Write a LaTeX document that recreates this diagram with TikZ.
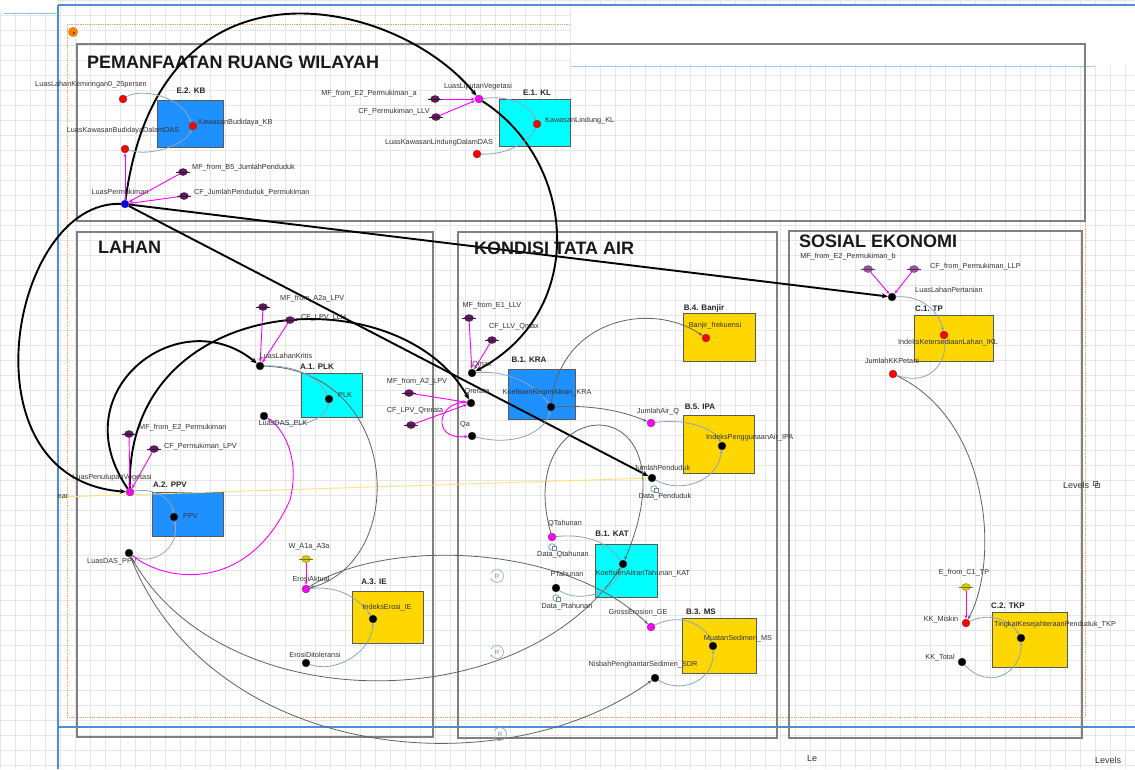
\documentclass[tikz,border=0pt]{standalone}
\usepackage{fontspec}
\setmainfont{Liberation Sans}
\usetikzlibrary{arrows.meta,calc,shapes.geometric}
\pgfdeclarelayer{bg}
\pgfdeclarelayer{links}
\pgfsetlayers{bg,links,main}
\definecolor{modblue}{HTML}{1E90FF}
\definecolor{modcyan}{HTML}{00FFFF}
\definecolor{modgold}{HTML}{FFD700}
\definecolor{linkblue}{HTML}{86A6C2}
\definecolor{ghost}{HTML}{5E1A5E}
\definecolor{ghostlight}{HTML}{9B55A0}
\definecolor{ghostyel}{HTML}{D8C800}
\definecolor{mag}{HTML}{FF00FF}
\definecolor{gridc}{HTML}{E6E6E6}
\definecolor{canvasblue}{HTML}{4A8FD4}
\definecolor{orangeline}{HTML}{F0A060}
\definecolor{yelline}{HTML}{FFE27A}
\tikzset{
  every node/.style={inner sep=0pt},
  lbl/.style={font=\fontsize{7.3}{8}\selectfont, text=black!80},
  modtitle/.style={font=\fontsize{8}{9}\selectfont\bfseries, text=black!85},
  bigtitle/.style={font=\fontsize{18}{20}\selectfont\bfseries, anchor=west, text=black!90},
  vdot/.style={circle, minimum size=8pt, draw=black!70, line width=0.3pt},
  rdot/.style={vdot, fill=red},
  mdot/.style={vdot, fill=mag},
  kdot/.style={vdot, fill=black},
  bdot/.style={vdot, fill=blue},
  gvar/.style={ellipse, minimum width=9pt, minimum height=7pt, fill=#1, draw=#1!60!black, line width=0.3pt},
  modbox/.style={draw=black!65, line width=0.8pt},
  frm/.style={draw=black!50, line width=1.3pt},
  thicklink/.style={black, line width=1.9pt, -{Stealth[length=6pt,width=5pt]}},
  graylink/.style={black!62, line width=0.8pt, -{Stealth[length=4pt,width=3pt]}},
  bluelink/.style={linkblue, line width=0.8pt, -{Stealth[length=3.5pt,width=3pt]}},
  maglink/.style={mag, line width=0.9pt, -{Stealth[length=4pt,width=3pt]}},
  dataic/.style={circle, minimum size=6.5pt, draw=linkblue, line width=0.9pt, fill=white},
  ricon/.style={font=\fontsize{6}{7}\selectfont, text=linkblue!80!black},
}
\newcommand\gvnode[4]{\node[gvar=#4] (#1) at (#2,#3) {};
  \draw[#4!60!black, line width=0.7pt] ($(#1.west)+(-2,0)$) -- ($(#1.east)+(2,0)$);}
\newcommand\dataicon[3]{\node[dataic] (#1) at (#2,#3) {};
  \draw[linkblue!80!black, line width=0.5pt, fill=white] ($(#1)+(0.5,-0.5)$) rectangle ++(4,4);}
\newcommand\rloop[3]{\node[ricon] (#1) at (#2,#3) {R};
  \draw[linkblue, line width=0.6pt, -{Stealth[length=2pt,width=2pt]}] (#1) ++(210:6.5) arc[start angle=210, end angle=520, radius=6.5];}

\begin{document}
\begin{tikzpicture}[x=1pt,y=-1pt]
\useasboundingbox (0,0) rectangle (1135,769);
\begin{pgfonlayer}{bg}
\fill[white] (0,0) rectangle (1135,769);
\foreach \gx in {0,15,...,1135} {\draw[gridc, line width=0.5pt] (\gx,0) -- (\gx,769);}
\foreach \gy in {0,15,...,769} {\draw[gridc, line width=0.5pt] (0,\gy) -- (1135,\gy);}
\fill[white] (571,6) rectangle (1135,65);
\fill[white] (0,0) rectangle (58,12);
\draw[canvasblue!50, line width=0.6pt] (571,66) -- (1095,66);
% canvas lines
\draw[canvasblue, line width=1.1pt] (58,5) -- (58,769);
\draw[canvasblue, line width=1.1pt] (58,5) -- (1135,5);
\draw[canvasblue!60, line width=0.8pt] (4,13) -- (58,13);
\draw[canvasblue, line width=1.1pt] (58,727) -- (1135,727);
\draw[orangeline, densely dotted, line width=0.8pt] (67,24) -- (67,717) -- (1085,717) -- (1085,90);
\draw[orangeline, densely dotted, line width=0.8pt] (67,24) -- (570,24);
% frames
\draw[frm] (77,44) rectangle (1085,221);
\draw[frm] (77,232) rectangle (433,737);
\draw[frm] (458,232) rectangle (777,738);
\draw[frm] (789,231) rectangle (1082,738);
% module boxes
\draw[modbox, fill=modblue] (157,100) rectangle (223,147);
\draw[modbox, fill=modcyan] (499,99) rectangle (570,146);
\draw[modbox, fill=modcyan] (301,373) rectangle (362,417);
\draw[modbox, fill=modblue] (152,492) rectangle (223,536);
\draw[modbox, fill=modgold] (352,591) rectangle (423,643);
\draw[modbox, fill=modblue] (508,369) rectangle (575,419);
\draw[modbox, fill=modgold] (683,313) rectangle (755,361);
\draw[modbox, fill=modgold] (683,415) rectangle (754,473);
\draw[modbox, fill=modcyan] (595,544) rectangle (657,597);
\draw[modbox, fill=modgold] (682,618) rectangle (756,673);
\draw[modbox, fill=modgold] (914,315) rectangle (993,361);
\draw[modbox, fill=modgold] (992,612) rectangle (1067,667);
\end{pgfonlayer}

% orange marker
\node[circle, fill=orange!85!brown, minimum size=10pt] (omark) at (73,32) {};
\node[circle, fill=black!70, minimum size=2.5pt] (omarkc) at (74,33) {};

% titles
\node[bigtitle] (tPRW) at (87,62) {PEMANFAATAN RUANG WILAYAH};
\node[bigtitle] (tLAH) at (98,247) {LAHAN};
\node[bigtitle] (tKTA) at (474,248) {KONDISI TATA AIR};
\node[bigtitle] (tSE) at (799,241) {SOSIAL EKONOMI};

% module titles
\node[modtitle] (mtKB) at (191,91) {E.2. KB};
\node[modtitle] (mtKL) at (537,93) {E.1. KL};
\node[modtitle] (mtPLK) at (317,367) {A.1. PLK};
\node[modtitle] (mtPPV) at (170,485) {A.2. PPV};
\node[modtitle] (mtIE) at (374,582) {A.3. IE};
\node[modtitle] (mtKRA) at (529,360) {B.1. KRA};
\node[modtitle] (mtBJ) at (704,308) {B.4. Banjir};
\node[modtitle] (mtIPA) at (700,407) {B.5. IPA};
\node[modtitle] (mtKAT) at (612,534) {B.1. KAT};
\node[modtitle] (mtMS) at (701,612) {B.3. MS};
\node[modtitle] (mtTP) at (929,309) {C.1. TP};
\node[modtitle] (mtTKP) at (1008,606) {C.2. TKP};

% ---------- variables: top module
\node[rdot] (LLK0) at (123,99) {};
\node[rdot] (KB) at (193,126) {};
\node[rdot] (LKBD) at (125,149) {};
\gvnode{MFB5}{183}{172}{ghost}
\gvnode{CFJP}{184}{196}{ghost}
\node[bdot] (LP) at (125,204) {};
\node[mdot] (LLV) at (479,99) {};
\gvnode{MFE2a}{435}{99}{ghost}
\gvnode{CFLLV}{436}{117}{ghost}
\node[rdot] (KL) at (537,124) {};
\node[rdot] (LKLD) at (477,154) {};

\node[lbl] (tLLK0) at (91,85) {LuasLahanKemiringan0\_25persen};
\node[lbl, anchor=west] (tKB) at (198,123) {KawasanBudidaya\_KB};
\node[lbl] (tLKBD) at (123,131) {LuasKawasanBudidayaDalamDAS};
\node[lbl, anchor=west] (tMFB5) at (192,168) {MF\_from\_B5\_JumlahPenduduk};
\node[lbl, anchor=west] (tCFJP) at (194,193) {CF\_JumlahPenduduk\_Permukiman};
\node[lbl] (tLP) at (120,192) {LuasPermukiman};
\node[lbl] (tLLV) at (478,87) {LuasLiputanVegetasi};
\node[lbl] (tMFE2a) at (369,94) {MF\_from\_E2\_Permukiman\_a};
\node[lbl] (tCFLLV) at (394,112) {CF\_Permukiman\_LLV};
\node[lbl, anchor=west] (tKL) at (545,121) {KawasanLindung\_KL};
\node[lbl] (tLKLD) at (439,143) {LuasKawasanLindungDalamDAS};

% ---------- LAHAN
\gvnode{MFA2a}{263}{307}{ghost}
\gvnode{CFLLH}{290}{320}{ghost}
\node[kdot] (LLK) at (260,366) {};
\node[kdot] (LDPLK) at (264,416) {};
\node[kdot] (PLK) at (329,399) {};
\gvnode{MFE2}{129}{434}{ghost}
\gvnode{CFPLPV}{154}{449}{ghost}
\node[mdot] (LPV) at (130,492) {};
\node[kdot] (PPV) at (174,517) {};
\node[kdot] (LDPPV) at (129,553) {};
\gvnode{WA}{306}{559}{ghostyel}
\node[mdot] (EA) at (306,589) {};
\node[kdot] (IE) at (373,619) {};
\node[kdot] (ED) at (306,663) {};

\node[lbl, anchor=west] (tMFA2a) at (280,299) {MF\_from\_A2a\_LPV};
\node[lbl, anchor=west] (tCFLLH) at (301,318) {CF\_LPV\_LLH};
\node[lbl] (tLLK) at (286,356) {LuasLahanKritis};
\node[lbl] (tLDPLK) at (283,424) {LuasDAS\_PLK};
\node[lbl, anchor=west] (tPLK) at (338,395) {PLK};
\node[lbl, anchor=west] (tMFE2) at (139,428) {MF\_from\_E2\_Permukiman};
\node[lbl, anchor=west] (tCFPLPV) at (164,447) {CF\_Permukiman\_LPV};
\node[lbl] (tLPV) at (112,478) {LuasPenutupanVegetasi};
\node[lbl, anchor=west] (tPPV) at (183,516) {PPV};
\node[lbl] (tLDPPV) at (112,562) {LuasDAS\_PPV};
\node[lbl] (tWA) at (309,547) {W\_A1a\_A3a};
\node[lbl] (tEA) at (311,579) {ErosiAktual};
\node[lbl] (tIE) at (387,608) {IndeksErosi\_IE};
\node[lbl] (tED) at (315,655) {ErosiDitoleransi};
\node[lbl] (tear) at (63,497) {ear};

% ---------- KONDISI TATA AIR
\gvnode{MFE1}{469}{318}{ghost}
\gvnode{CFQmax}{492}{340}{ghost}
\node[kdot] (Qmax) at (472,373) {};
\node[kdot] (Qrerata) at (471,403) {};
\node[kdot] (Qa) at (472,436) {};
\gvnode{MFA2}{409}{393}{ghost}
\gvnode{CFLPVQ}{411}{425}{ghost}
\node[kdot] (KRA) at (551,407) {};
\node[rdot] (BF) at (706,338) {};
\node[mdot] (JAQ) at (651,423) {};
\node[kdot] (IPA) at (722,446) {};
\node[kdot] (JP) at (652,478) {};
\dataicon{dPen}{654}{489}
\node[mdot] (QT) at (552,537) {};
\dataicon{dQt}{552}{547}
\node[kdot] (KAT) at (623,564) {};
\node[kdot] (PT) at (556,588) {};
\dataicon{dPt}{556}{598}
\node[mdot] (GE) at (651,627) {};
\node[kdot] (MS) at (713,646) {};
\node[kdot] (SDR) at (655,678) {};
\rloop{r1}{497}{576}
\rloop{r2}{497}{652}
\rloop{r3}{500}{734}

\node[lbl] (tMFE1) at (492,306) {MF\_from\_E1\_LLV};
\node[lbl] (tCFQmax) at (514,327) {CF\_LLV\_Qmax};
\node[lbl] (tQmax) at (482,365) {Qmax};
\node[lbl] (tQrerata) at (477,392) {Qrerata};
\node[lbl] (tQa) at (465,425) {Qa};
\node[lbl] (tMFA2) at (417,382) {MF\_from\_A2\_LPV};
\node[lbl] (tCFLPVQ) at (415,411) {CF\_LPV\_Qrerata};
\node[lbl] (tKRA) at (547,393) {KoefisienRegimAliran\_KRA};
\node[lbl] (tBF) at (715,326) {Banjir\_frekuensi};
\node[lbl] (tJAQ) at (658,412) {JumlahAir\_Q};
\node[lbl, anchor=west] (tIPA) at (706,438) {IndeksPenggunaanAir\_IPA};
\node[lbl] (tJP) at (662,468) {JumlahPenduduk};
\node[lbl] (tdPen) at (665,497) {Data\_Penduduk};
\node[lbl] (tQT) at (565,524) {QTahunan};
\node[lbl] (tdQt) at (563,555) {Data\_Qtahunan};
\node[lbl] (tKAT) at (643,574) {KoefisienAliranTahunan\_KAT};
\node[lbl] (tPT) at (567,574) {PTahunan};
\node[lbl] (tdPt) at (567,607) {Data\_Ptahunan};
\node[lbl] (tGE) at (638,613) {GrossErosion\_GE};
\node[lbl] (tMS) at (738,639) {MuatanSedimen\_MS};
\node[lbl] (tSDR) at (643,665) {NisbahPenghantarSedimen\_SDR};

% ---------- SOSIAL EKONOMI
\gvnode{MFE2b}{868}{269}{ghostlight}
\gvnode{CFLLP}{914}{269}{ghostlight}
\node[kdot] (LLP) at (892,297) {};
\node[rdot] (IKL) at (944,335) {};
\node[rdot] (JKKP) at (893,374) {};
\gvnode{EC1}{966}{587}{ghostyel}
\node[rdot] (KKM) at (966,623) {};
\node[kdot] (TKP) at (1021,638) {};
\node[kdot] (KKT) at (962,662) {};

\node[lbl] (tMFE2b) at (848,257) {MF\_from\_E2\_Permukiman\_b};
\node[lbl, anchor=west] (tCFLLP) at (930,267) {CF\_from\_Permukiman\_LLP};
\node[lbl, anchor=west] (tLLP) at (915,290) {LuasLahanPertanian};
\node[lbl] (tIKL) at (948,343) {IndeksKetersediaanLahan\_IKL};
\node[lbl] (tJKKP) at (892,361) {JumlahKKPetani};
\node[lbl] (tEC1) at (964,573) {E\_from\_C1\_TP};
\node[lbl] (tKKM) at (941,620) {KK\_Miskin};
\node[lbl] (tTKP) at (1055,625) {TingkatKesejahteraanPenduduk\_TKP};
\node[lbl] (tKKT) at (940,658) {KK\_Total};

% misc canvas texts
\node[lbl, font=\fontsize{9}{10}\selectfont] (tLev1) at (1076,485) {Levels};
\draw[black!60, line width=0.5pt] (1093,481) rectangle ++(4,4) (1095,483) rectangle ++(4,4);
\node[lbl, font=\fontsize{9}{10}\selectfont] (tLe) at (812,758) {Le};
\node[lbl, font=\fontsize{9}{10}\selectfont] (tLev2) at (1108,760) {Levels};

% ---------- connectors
\begin{pgfonlayer}{links}
\coordinate (earpt) at (58,497);
\draw[yelline, line width=0.9pt] (earpt) -- (JP);
% thick links between modules
\draw[thicklink] (LP) -- (LLP);
\draw[thicklink] (LP) -- (JP);
\draw[thicklink] (LP) .. controls (160,-60) and (400,0) .. (LLV);
\draw[thicklink] (LLV) .. controls (575,160) and (590,310) .. (Qmax);
\draw[thicklink] (LP) .. controls (10,200) and (-40,480) .. (LPV);
\draw[thicklink] (LPV) .. controls (60,390) and (180,300) .. (LLK);
\draw[thicklink] (LPV) .. controls (125,290) and (400,275) .. (Qrerata);
% gray links
\draw[graylink] (LLK) .. controls (400,370) and (410,560) .. (EA);
\draw[graylink] (EA) .. controls (380,540) and (560,540) .. (GE);
\draw[graylink] (LDPPV) .. controls (220,720) and (520,720) .. (KAT);
\draw[graylink] (LDPPV) .. controls (210,760) and (500,790) .. (SDR);
\draw[graylink] (KRA) .. controls (560,320) and (650,300) .. (BF);
\draw[graylink] (KRA) .. controls (590,405) and (620,410) .. (JAQ);
\draw[graylink] (QT) .. controls (510,390) and (700,380) .. (KAT);
\draw[graylink] (JKKP) .. controls (990,420) and (1000,560) .. (KKM);
% blue links inside modules
\draw[bluelink] (LLK0) .. controls (140,88) and (180,95) .. (KB);
\draw[bluelink] (LKBD) .. controls (150,157) and (185,145) .. (KB);
\draw[bluelink] (LLV) .. controls (510,95) and (530,105) .. (KL);
\draw[bluelink] (LKLD) .. controls (510,155) and (530,140) .. (KL);
\draw[bluelink] (LLK) .. controls (300,365) and (320,380) .. (PLK);
\draw[bluelink] (LDPLK) .. controls (290,432) and (325,422) .. (PLK);
\draw[bluelink] (LPV) .. controls (155,487) and (172,500) .. (PPV);
\draw[bluelink, black!35] (LDPPV) .. controls (150,567) and (180,550) .. (PPV);
\draw[bluelink] (EA) .. controls (340,585) and (360,600) .. (IE);
\draw[bluelink] (ED) .. controls (335,674) and (372,652) .. (IE);
\draw[bluelink] (Qmax) .. controls (510,370) and (535,385) .. (KRA);
\draw[bluelink] (Qa) .. controls (515,447) and (545,432) .. (KRA);
\draw[bluelink] (JAQ) .. controls (690,418) and (715,430) .. (IPA);
\draw[bluelink] (JP) .. controls (680,494) and (718,482) .. (IPA);
\draw[bluelink] (QT) .. controls (590,533) and (610,545) .. (KAT);
\draw[bluelink] (PT) .. controls (575,602) and (612,597) .. (KAT);
\draw[bluelink] (GE) .. controls (680,612) and (705,625) .. (MS);
\draw[bluelink] (SDR) .. controls (680,694) and (714,682) .. (MS);
\draw[bluelink] (LLP) .. controls (925,295) and (940,315) .. (IKL);
\draw[bluelink] (JKKP) .. controls (930,387) and (947,362) .. (IKL);
\draw[bluelink] (KKM) .. controls (990,612) and (1010,620) .. (TKP);
\draw[bluelink] (KKT) .. controls (990,692) and (1022,672) .. (TKP);
% magenta links
\draw[maglink] (MFB5) -- (LP);
\draw[maglink] (CFJP) -- (LP);
\draw[maglink] (LP) -- (LKBD);
\draw[maglink] (MFE2a) -- (LLV);
\draw[maglink] (CFLLV) -- (LLV);
\draw[maglink] (MFA2a) -- (LLK);
\draw[maglink] (CFLLH) -- (LLK);
\draw[maglink] (MFE2) -- (LPV);
\draw[maglink] (CFPLPV) -- (LPV);
\draw[maglink] (WA) -- (EA);
\draw[maglink] (MFE1) -- (Qmax);
\draw[maglink] (CFQmax) -- (Qmax);
\draw[maglink] (MFA2) -- (Qrerata);
\draw[maglink] (CFLPVQ) -- (Qrerata);
\draw[maglink] (Qrerata) .. controls (438,400) and (430,440) .. (Qa);
\draw[maglink] (MFE2b) -- (LLP);
\draw[maglink] (CFLLP) -- (LLP);
\draw[maglink] (EC1) -- (KKM);
\draw[maglink] (LDPPV) .. controls (170,585) and (250,590) .. (290,500) .. controls (300,460) and (285,430) .. (LDPLK);
\end{pgfonlayer}
\end{tikzpicture}
\end{document}
